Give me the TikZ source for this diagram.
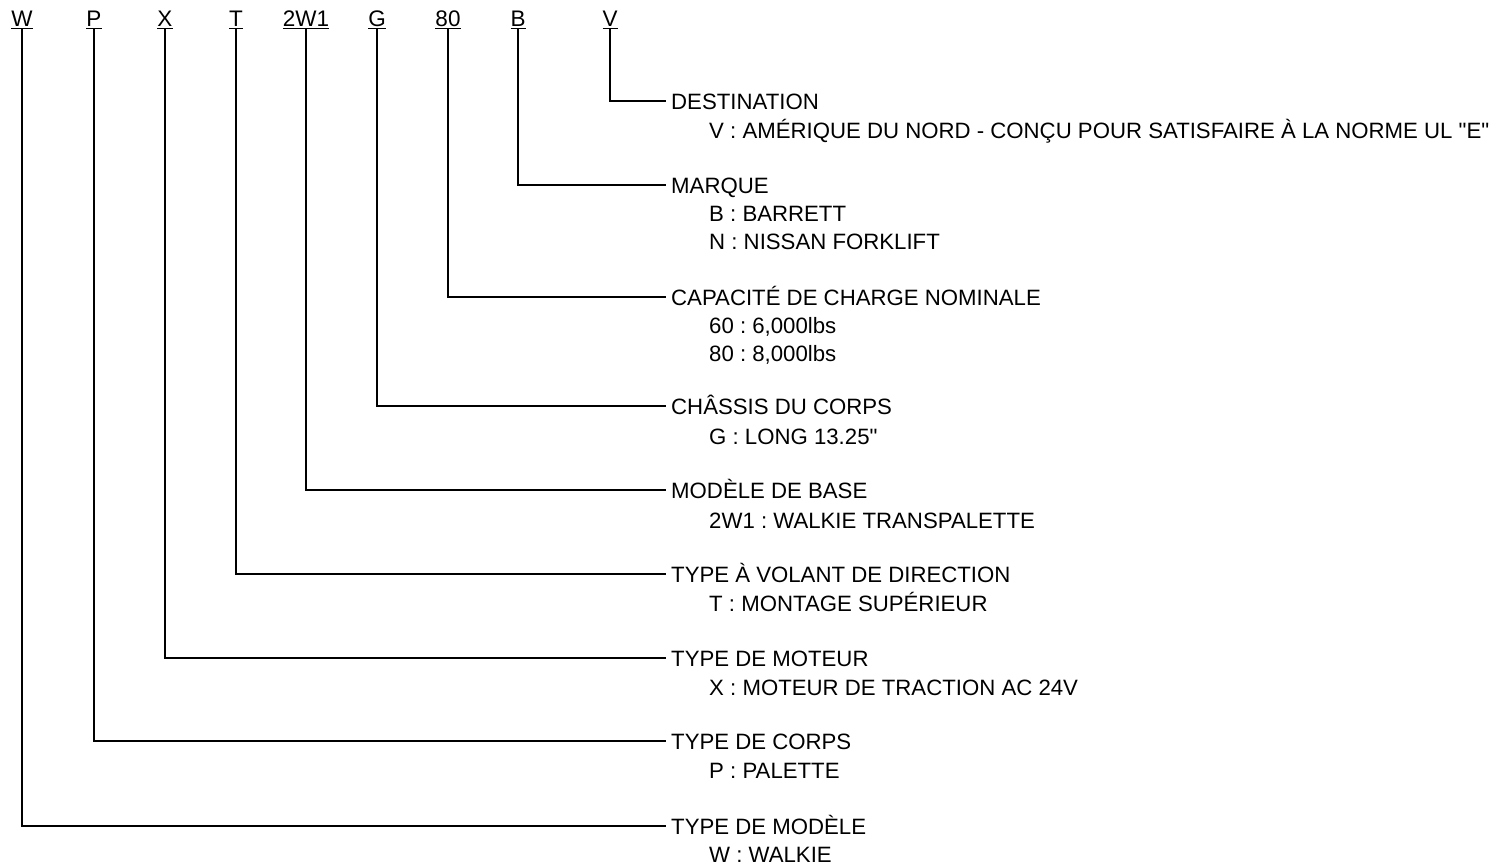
\documentclass[tikz,border=0pt]{standalone}
\usepackage{fontspec}
\setmainfont{Liberation Sans}[Ligatures=TeXOff]
\frenchspacing
\begin{document}
\frenchspacing
\begin{tikzpicture}[x=1pt,y=-1pt,
  code/.style={inner sep=0pt,anchor=base,font=\fontsize{22.5}{26}\selectfont},
  ttl/.style={inner sep=0pt,anchor=west,text height=16pt,text depth=0pt,font=\fontsize{22.2}{26}\selectfont},
  dtl/.style={inner sep=0pt,anchor=base west,font=\fontsize{22.2}{26}\selectfont},
  conn/.style={line width=1.6pt}]
\useasboundingbox (0,0) rectangle (1506,867);
% code letters
\node[code] (cW) at (22,27) {\underline{W}};
\node[code] (cP) at (94,27) {\underline{P}};
\node[code] (cX) at (165,27) {\underline{X}};
\node[code] (cT) at (236,27) {\underline{T}};
\node[code] (c2W1) at (306,27) {\underline{2W1}};
\node[code] (cG) at (377,27) {\underline{G}};
\node[code] (c80) at (448,27) {\underline{80}};
\node[code] (cB) at (518,27) {\underline{B}};
\node[code] (cV) at (610,27) {\underline{V}};
% titles
\node[ttl] (tV) at (671,101) {DESTINATION};
\node[ttl] (tB) at (671,185) {MARQUE};
\node[ttl] (t80) at (671,297) {CAPACITÉ DE CHARGE NOMINALE};
\node[ttl] (tG) at (671,406) {CHÂSSIS DU CORPS};
\node[ttl] (t2W1) at (671,490) {MODÈLE DE BASE};
\node[ttl] (tT) at (671,574) {TYPE À VOLANT DE DIRECTION};
\node[ttl] (tX) at (671,658) {TYPE DE MOTEUR};
\node[ttl] (tP) at (671,741) {TYPE DE CORPS};
\node[ttl] (tW) at (671,826) {TYPE DE MODÈLE};
% details
\node[dtl] (dV) at (709,138) {V : AMÉRIQUE DU NORD - CONÇU POUR SATISFAIRE À LA NORME UL "E"};
\node[dtl] (dB1) at (709,221) {B : BARRETT};
\node[dtl] (dB2) at (709,249) {N : NISSAN FORKLIFT};
\node[dtl] (d801) at (709,333) {60 : 6,000lbs};
\node[dtl] (d802) at (709,361) {80 : 8,000lbs};
\node[dtl] (dG) at (709,444) {G : LONG 13.25"};
\node[dtl] (d2W1) at (709,528) {2W1 : WALKIE TRANSPALETTE};
\node[dtl] (dT) at (709,611) {T : MONTAGE SUPÉRIEUR};
\node[dtl] (dX) at (709,695) {X : MOTEUR DE TRACTION AC 24V};
\node[dtl] (dP) at (709,778) {P : PALETTE};
\node[dtl] (dW) at (709,862) {W : WALKIE};
% connectors
\foreach \k in {W,P,X,T,2W1,G,80,B,V}
  \draw[conn] (c\k.south) |- ([xshift=-5pt]t\k.west);
\end{tikzpicture}
\end{document}
